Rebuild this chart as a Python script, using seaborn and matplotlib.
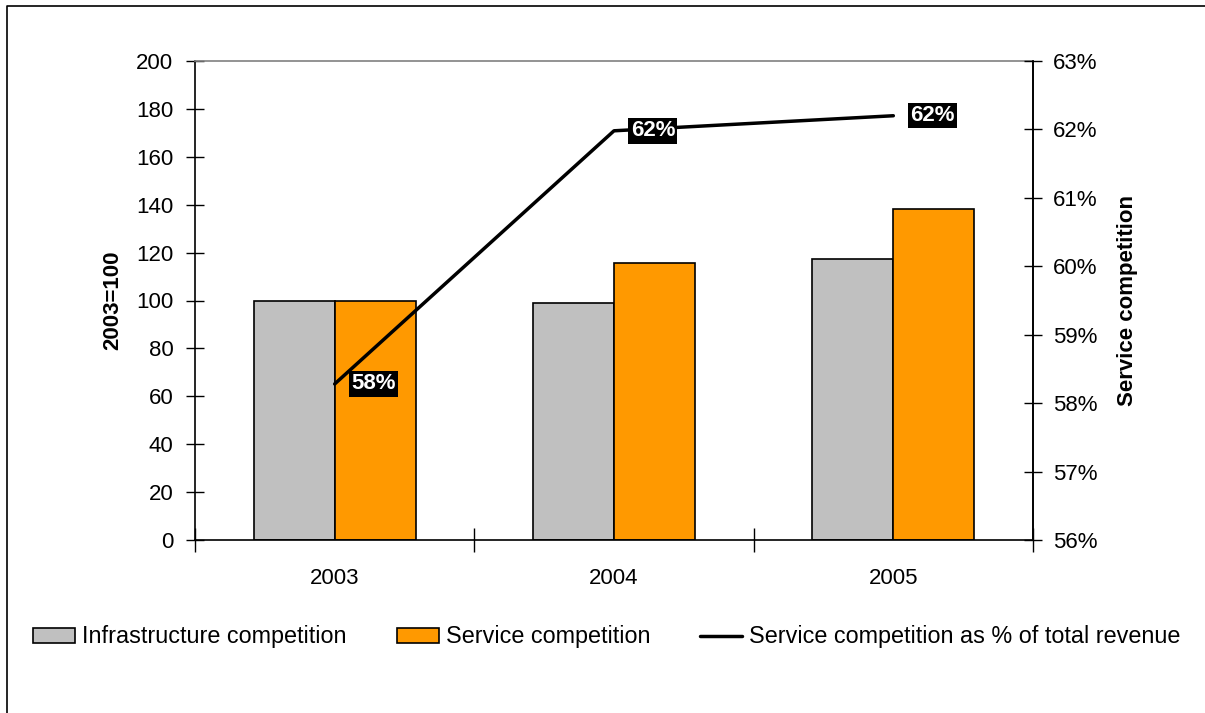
import matplotlib
matplotlib.use("Agg")
import matplotlib.pyplot as plt
from matplotlib.lines import Line2D
from matplotlib.patches import Patch
from matplotlib.ticker import FuncFormatter, FixedLocator
import seaborn as sns
import pandas as pd
import numpy as np

# Data
years = ["2003", "2004", "2005"]
infrastructure = [100, 99, 117.3]
service = [100, 115.7, 138.2]
service_share = [0.5828, 0.6198, 0.6220]

series_names = ["Infrastructure competition", "Service competition"]
line_name = "Service competition as % of total revenue"
left_label = "2003=100"
right_label = "Service competition"

gray = "#c0c0c0"
orange = "#ff9900"

sns.set_theme(style="white")
plt.rcParams["font.family"] = ["Liberation Sans", "DejaVu Sans"]
plt.rcParams["font.size"] = 16
plt.rcParams["text.color"] = "black"
plt.rcParams["axes.labelcolor"] = "black"
plt.rcParams["xtick.color"] = "black"
plt.rcParams["ytick.color"] = "black"

df = pd.DataFrame({
    "year": years * 2,
    "value": infrastructure + service,
    "series": [series_names[0]] * 3 + [series_names[1]] * 3,
})

fig = plt.figure(figsize=(12.05, 7.13), dpi=100)
ax = fig.add_axes([195 / 1205, 1 - 540 / 713, (1033 - 195) / 1205, (540 - 61) / 713])

sns.barplot(data=df, x="year", y="value", hue="series", order=years,
            hue_order=series_names, palette=[gray, orange], saturation=1,
            width=0.58, gap=0, edgecolor="black", linewidth=1.2, ax=ax, legend=False)

ax.set_ylim(0, 200)
ax.set_xlim(-0.5, 2.5)
ax.set_yticks(np.arange(0, 201, 20))
ax.set_xlabel("")
ax.set_ylabel(left_label, fontsize=16, fontweight="bold", labelpad=9)
ax.tick_params(axis="y", direction="inout", length=13, width=1, color="black",
               labelsize=16, pad=9, left=True)
ax.tick_params(axis="x", which="major", length=0, labelsize=16, pad=20)
ax.xaxis.set_minor_locator(FixedLocator([-0.5, 0.5, 1.5, 2.5]))
ax.tick_params(axis="x", which="minor", direction="inout", length=17, width=1,
               color="black", bottom=True)
for side in ["left", "bottom", "right"]:
    ax.spines[side].set_color("black")
    ax.spines[side].set_linewidth(1.2)
ax.spines["top"].set_color("#808080")
ax.spines["top"].set_linewidth(1.2)
ax.grid(False)

# Share of total revenue on the secondary axis
ax2 = ax.twinx()
x_pos = np.arange(len(years))
sns.lineplot(x=x_pos, y=service_share, color="black", linewidth=2.5, ax=ax2,
             legend=False)
ax2.set_ylim(0.56, 0.63)
ax2.set_xlim(-0.5, 2.5)
ax2.set_yticks(np.arange(0.56, 0.6301, 0.01))
ax2.yaxis.set_major_formatter(FuncFormatter(lambda v, _: f"{v * 100:.0f}%"))
ax2.tick_params(axis="y", direction="inout", length=13, width=1, color="black",
                labelsize=16, pad=8, right=True)
ax2.set_ylabel(right_label, fontsize=16, fontweight="bold", labelpad=14)
for s in ax2.spines.values():
    s.set_visible(False)
ax2.spines["right"].set_visible(True)
ax2.spines["right"].set_color("black")
ax2.spines["right"].set_linewidth(1.2)
ax2.grid(False)

for xi, v in zip(x_pos, service_share):
    ax2.annotate(f"{v * 100:.0f}%", (xi, v), xytext=(28, 0), textcoords="offset points",
                 ha="center", va="center", color="white", fontsize=16, fontweight="bold",
                 bbox=dict(boxstyle="square,pad=0.1", facecolor="black", edgecolor="none"))

# Legend below the plot
handles = [
    Patch(facecolor=gray, edgecolor="black", linewidth=1.2, label=series_names[0]),
    Patch(facecolor=orange, edgecolor="black", linewidth=1.2, label=series_names[1]),
    Line2D([], [], color="black", linewidth=2.5, label=line_name),
]
fig.legend(handles=handles, loc="center left", bbox_to_anchor=(12 / 1205, 1 - 637 / 713),
           ncol=3, frameon=False, fontsize=16.8, handlelength=1.8, handleheight=0.65,
           handletextpad=0.3, columnspacing=2.15)

# Outer frame
fig.add_artist(Line2D([7.5 / 1205, 7.5 / 1205, 1.0], [0.0, 1 - 5.5 / 713, 1 - 5.5 / 713],
                      transform=fig.transFigure, color="black", linewidth=1.2))

fig.savefig("out.png", dpi=100)
